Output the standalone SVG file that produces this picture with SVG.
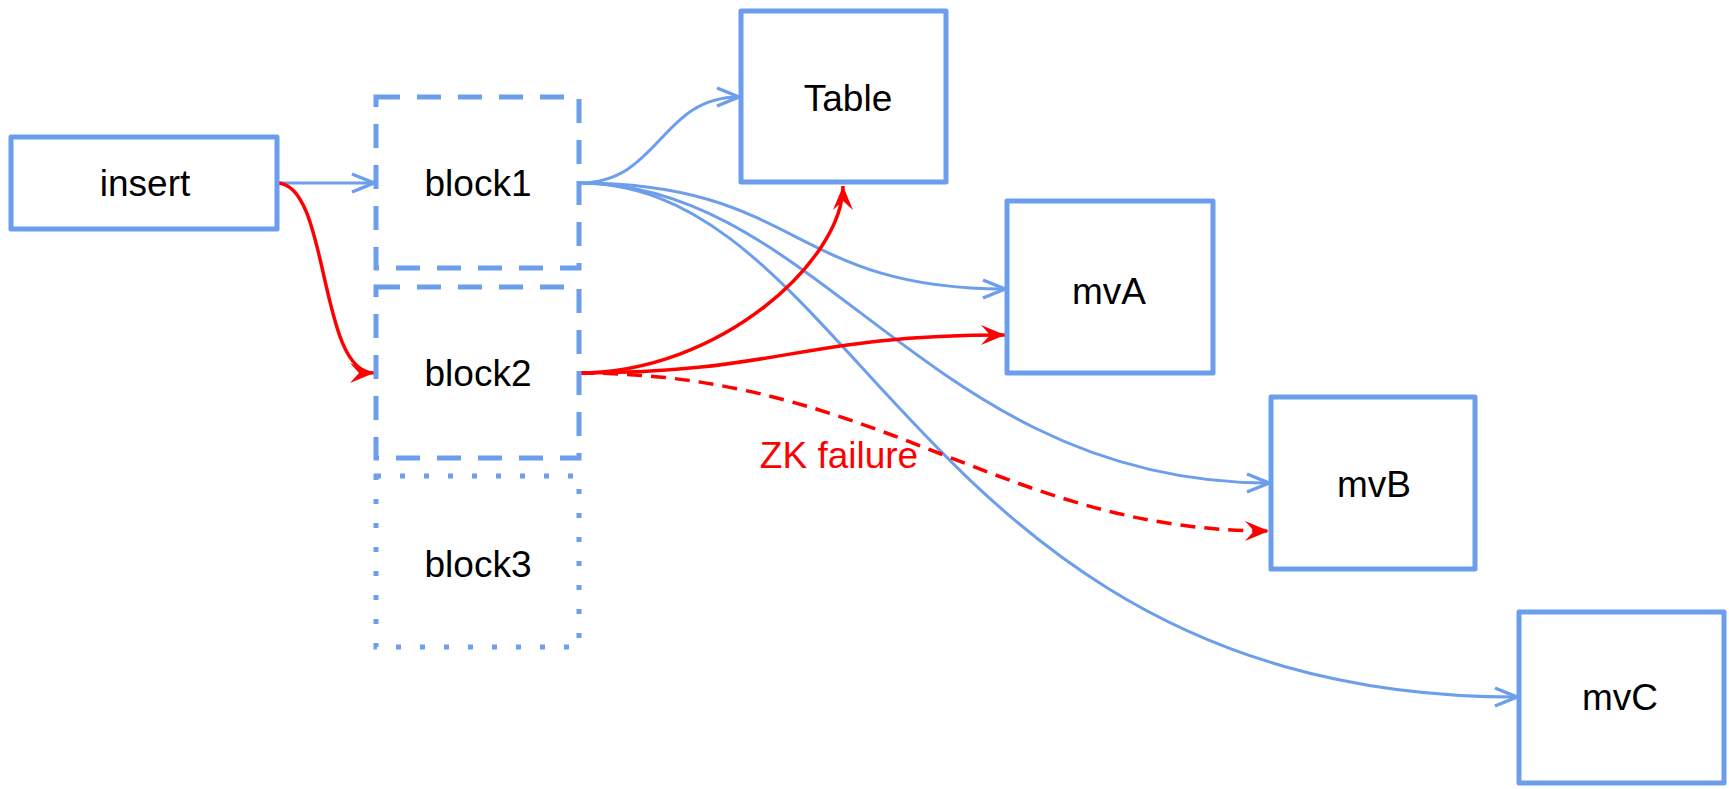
<svg xmlns="http://www.w3.org/2000/svg" width="1729" height="789" viewBox="0 0 1729 789">
<style>
.box{fill:#fff;stroke:#6d9eeb;stroke-width:5;stroke-linejoin:round}
.dash{fill:none;stroke:#6d9eeb;stroke-width:5;stroke-dasharray:24 17}
.dot{fill:none;stroke:#6d9eeb;stroke-width:5;stroke-dasharray:5 19}
.lbl{font-family:"Liberation Sans",Arial,sans-serif;font-size:37px;fill:#000;text-anchor:middle}
.b{fill:none;stroke:#6d9eeb;stroke-width:3}
.r{fill:none;stroke:#ff0000;stroke-width:3.5}
.rd{fill:none;stroke:#ff0000;stroke-width:3.5;stroke-dasharray:15 9}
</style>
<defs>
<marker id="ab" markerUnits="userSpaceOnUse" markerWidth="30" markerHeight="24" refX="0" refY="0" viewBox="-26 -12 30 24" orient="auto" overflow="visible">
<path d="M-22,-9 L0,0 L-22,9" fill="none" stroke="#6d9eeb" stroke-width="3.5" stroke-linejoin="miter"/>
</marker>
<marker id="ar" markerUnits="userSpaceOnUse" markerWidth="30" markerHeight="26" refX="0" refY="0" viewBox="-26 -13 30 26" orient="auto" overflow="visible">
<path d="M0,0 L-24,-10 L-15,0 L-24,10 Z" fill="#ff0000"/>
</marker>
</defs>
<rect width="1729" height="789" fill="#fff"/>
<g id="connectors">
<path class="b" d="M277,183 L374,183" marker-end="url(#ab)"/>
<path class="r" d="M277,183 C330,183 318,373 374,373" marker-end="url(#ar)"/>
<path class="b" d="M579,183 C660,183 660,97 739,97" marker-end="url(#ab)"/>
<path class="b" d="M579,183 C800,183 790,289 1005,289" marker-end="url(#ab)"/>
<path class="b" d="M579,183 C820,183 930,483 1269,483" marker-end="url(#ab)"/>
<path class="b" d="M579,183 C860,183 920,697 1517,697" marker-end="url(#ab)"/>
<path class="r" d="M579,373 C720,373 843,260 843,186" marker-end="url(#ar)"/>
<path class="r" d="M579,373 C780,373 800,335 1005,335" marker-end="url(#ar)"/>
<path class="rd" d="M579,373 C880,373 1000,531 1269,531" marker-end="url(#ar)"/>
<text x="839" y="468" font-family="Liberation Sans, Arial, sans-serif" font-size="37" fill="#ff0000" text-anchor="middle">ZK failure</text>
</g>
<g id="insert"><rect class="box" x="11" y="137" width="266" height="92"/><text class="lbl" x="145" y="196">insert</text></g>
<g id="block1"><rect class="dash" x="376" y="97" width="203" height="171"/><text class="lbl" x="478" y="196">block1</text></g>
<g id="block2"><rect class="dash" x="376" y="287" width="203" height="171"/><text class="lbl" x="478" y="386">block2</text></g>
<g id="block3"><rect class="dot" x="376" y="476" width="203" height="171"/><text class="lbl" x="478" y="577">block3</text></g>
<g id="table"><rect class="box" x="741" y="11" width="205" height="171"/><text class="lbl" x="848" y="111">Table</text></g>
<g id="mvA"><rect class="box" x="1007" y="201" width="206" height="172"/><text class="lbl" x="1109" y="304">mvA</text></g>
<g id="mvB"><rect class="box" x="1271" y="397" width="204" height="172"/><text class="lbl" x="1374" y="497">mvB</text></g>
<g id="mvC"><rect class="box" x="1519" y="612" width="205" height="171"/><text class="lbl" x="1620" y="710">mvC</text></g>
</svg>
